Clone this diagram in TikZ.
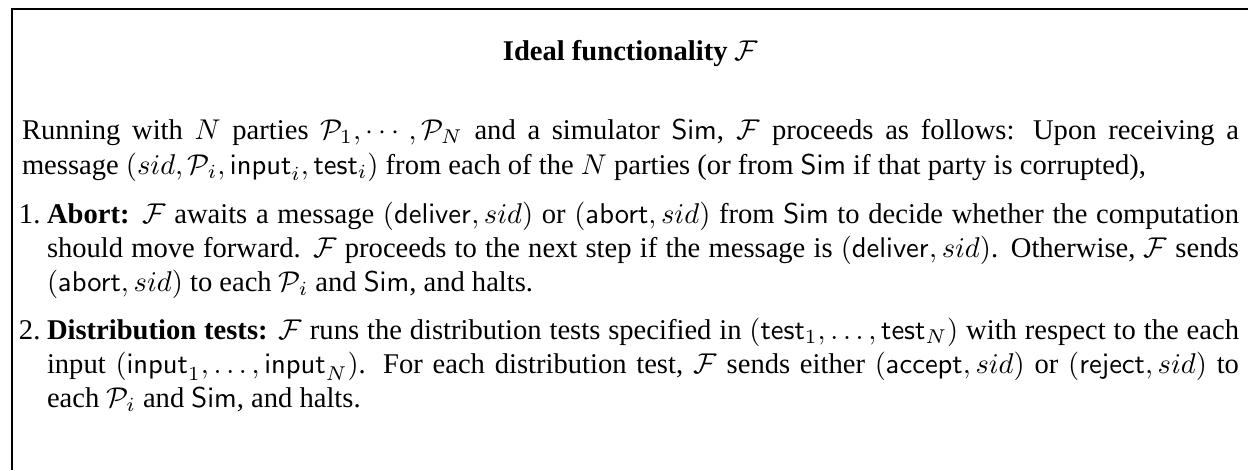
\documentclass[tikz,border=0pt]{standalone}
\usepackage[no-math]{fontspec}
\setmainfont{Liberation Serif}
\usepackage{amsmath}
% one drawing unit
\newlength\pxu
\setlength\pxu{0.34990pt}
\tikzset{
  frameline/.style={line width=0.4pt},
  txt/.style={inner sep=0pt, outer sep=0pt, anchor=base west, font=\fontsize{10}{12}\selectfont},
  ttl/.style={inner sep=0pt, outer sep=0pt, anchor=base, font=\fontsize{10}{12}\selectfont},
}
\newcommand{\fullline}[1]{\makebox[1217\pxu][s]{#1}}
\newcommand{\itemline}[1]{\makebox[1192\pxu][s]{#1}}
\begin{document}
\begin{tikzpicture}[x=\pxu, y=-\pxu]
  \useasboundingbox (0,0) rectangle (1248,470);
  % open frame: top and left rules
  \draw[frameline] (12,470) -- (12,9) -- (1248,9);

  % heading
  \node[ttl] (title) at (630.5,60) {\textbf{Ideal functionality} $\mathcal{F}$};

  % opening paragraph
  \node[txt] (p1) at (22,139) {\fullline{Running with $N$ parties $\mathcal{P}_1,\cdots,\mathcal{P}_N$ and a simulator $\mathsf{Sim}$, $\mathcal{F}$ proceeds as follows: Upon receiving a}};
  \node[txt] (p2) at (22,174) {message $(sid,\mathcal{P}_i,\mathsf{input}_i,\mathsf{test}_i)$ from each of the $N$ parties (or from $\mathsf{Sim}$ if that party is corrupted),};

  % item 1
  \node[txt] (n1) at (19,223) {1.};
  \node[txt] (a1) at (47,223) {\itemline{\textbf{Abort:} $\mathcal{F}$ awaits a message $(\mathsf{deliver},sid)$ or $(\mathsf{abort},sid)$ from $\mathsf{Sim}$ to decide whether the computation}};
  \node[txt] (a2) at (47,257.3) {\itemline{should move forward. $\mathcal{F}$ proceeds to the next step if the message is $(\mathsf{deliver},sid)$. Otherwise, $\mathcal{F}$ sends}};
  \node[txt] (a3) at (47,291.6) {$(\mathsf{abort},sid)$ to each $\mathcal{P}_i$ and $\mathsf{Sim}$, and halts.};

  % item 2
  \node[txt] (n2) at (19,339) {2.};
  \node[txt] (b1) at (47,339) {\itemline{\textbf{Distribution tests:} $\mathcal{F}$ runs the distribution tests specified in $(\mathsf{test}_1,\ldots,\mathsf{test}_N)$ with respect to the each}};
  \node[txt] (b2) at (47,373.3) {\itemline{input $(\mathsf{input}_1,\ldots,\mathsf{input}_N)$. For each distribution test, $\mathcal{F}$ sends either $(\mathsf{accept},sid)$ or $(\mathsf{reject},sid)$ to}};
  \node[txt] (b3) at (47,407.6) {each $\mathcal{P}_i$ and $\mathsf{Sim}$, and halts.};
\end{tikzpicture}
\end{document}
